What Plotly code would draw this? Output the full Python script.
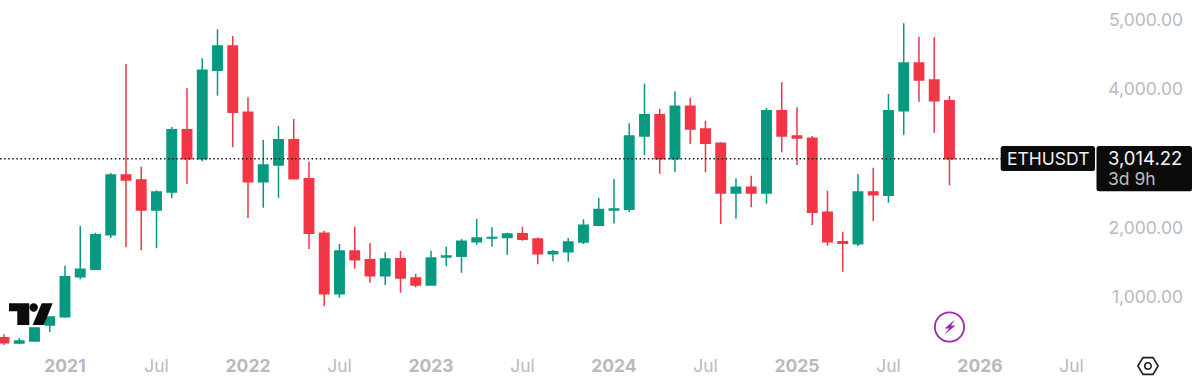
import plotly.graph_objects as go

MONTH_NAMES = ["Jan","Feb","Mar","Apr","May","Jun","Jul","Aug","Sep","Oct","Nov","Dec"]
axis_months = [f"{m} {y}" for y in range(2020, 2027) for m in MONTH_NAMES]
axis_months = axis_months[axis_months.index("Sep 2020"):]

open_ = [431,354,383,614,734,1312,1418,1918,2779,2707,2274,2533,3433,3014,4289,4640,3683,2683,2923,3289,2726,1937,1066,
         1682,1557,1326,1571,1292,1191,1595,1605,1817,1868,1875,1932,1855,1644,1672,1812,2052,2274,2283,3342,3649,3014,
         3770,3442,3236,2519,2601,2519,3707,3342,3308,2240,1817,1788,2533,2485,3707,4395,4150,3851]
high = [480,422,575,732,1470,2043,1947,2808,4381,2899,2558,3471,4034,4462,4881,4785,3900,3289,3486,3587,2971,1975,1783,
        2033,1793,1663,1682,1355,1687,1745,1855,2144,2024,1947,2033,1875,1697,1870,2139,2452,2721,3524,4097,3736,3986,
        3895,3563,3250,2731,2769,3750,4116,3755,3342,2553,1961,2793,2885,3948,4967,4775,4765,3919]
low = [326,335,374,513,720,1273,1415,1870,1735,1697,1721,2447,2654,2976,3924,3178,2158,2307,2452,2721,1711,884,1009,
       1427,1225,1191,1081,1158,1185,1461,1369,1773,1745,1629,1831,1490,1533,1528,1783,2048,2077,2245,3067,2798,2822,
       3226,2817,2072,2149,2312,2365,3106,2923,2052,1759,1384,1754,2115,2380,3356,3837,3390,2630]
close = [359,383,571,730,1312,1418,1918,2779,2707,2274,2533,3433,3014,4289,4640,3683,2683,2923,3289,2726,1937,1066,1682,
         1557,1326,1567,1292,1191,1581,1610,1822,1870,1878,1927,1850,1644,1672,1812,2052,2279,2288,3342,3649,3014,3770,
         3442,3236,2519,2601,2519,3707,3342,3313,2240,1817,1793,2533,2495,3707,4395,4150,3851,3014.22]
n = len(open_)
months = axis_months[:n]

price_ticks = [1000, 2000, 3000, 4000, 5000]
price_labels = ["1,000.00", "2,000.00", "", "4,000.00", "5,000.00"]
time_ticks = ["Jan 2021","Jul 2021","Jan 2022","Jul 2022","Jan 2023","Jul 2023","Jan 2024","Jul 2024",
              "Jan 2025","Jul 2025","Jan 2026","Jul 2026"]
time_labels = ["<b>2021</b>","Jul","<b>2022</b>","Jul","<b>2023</b>","Jul","<b>2024</b>","Jul",
               "<b>2025</b>","Jul","<b>2026</b>","Jul"]
last_price = 3014.22
symbol = "ETHUSDT"
price_text = "3,014.22"
countdown = "3d 9h"

W, H = 1186, 353
X = lambda x: x / W
Y = lambda y: 1 - y / H
def poly(points, close_path=True):
    s = "M " + " L ".join(f"{X(a):.5f},{Y(b):.5f}" for a, b in points)
    return s + (" Z" if close_path else "")
def rrect(x0, y0, x1, y1, r, corners=(1,1,1,1)):
    tl, tr, br, bl = [r*c for c in corners]
    return (f"M {X(x0+tl):.5f},{Y(y0):.5f} L {X(x1-tr):.5f},{Y(y0):.5f} "
            f"Q {X(x1):.5f},{Y(y0):.5f} {X(x1):.5f},{Y(y0+tr):.5f} "
            f"L {X(x1):.5f},{Y(y1-br):.5f} Q {X(x1):.5f},{Y(y1):.5f} {X(x1-br):.5f},{Y(y1):.5f} "
            f"L {X(x0+bl):.5f},{Y(y1):.5f} Q {X(x0):.5f},{Y(y1):.5f} {X(x0):.5f},{Y(y1-bl):.5f} "
            f"L {X(x0):.5f},{Y(y0+tl):.5f} Q {X(x0):.5f},{Y(y0):.5f} {X(x0+tl):.5f},{Y(y0):.5f} Z")
def circle(cx, cy, r, **kw):
    return dict(type="circle", xref="paper", yref="paper", x0=X(cx-r), x1=X(cx+r), y0=Y(cy+r), y1=Y(cy-r), **kw)
def path(d, **kw):
    return dict(type="path", xref="paper", yref="paper", path=d, **kw)

BLACK = "#0b0b0b"
PURPLE = "#9c27b0"
shapes = [
    dict(type="line", xref="paper", yref="y", x0=0, x1=X(1001), y0=last_price, y1=last_price,
         line=dict(color="#131722", width=1.5, dash="1.5px,2.6px"), layer="above"),
    path(rrect(1000.7, 146, 1095, 171, 2.5), fillcolor=BLACK, line_width=0),
    path(rrect(1096.5, 146, 1192, 191.3, 2.5), fillcolor=BLACK, line_width=0),
    # TradingView mark
    path(poly([(9,303.3),(29.3,303.3),(29.3,325),(17.3,325),(17.3,311.3),(9,311.3)]), fillcolor=BLACK, line_width=0),
    circle(33.7, 307.5, 4.2, fillcolor=BLACK, line_width=0),
    path(poly([(41.7,303.3),(52.7,303.3),(43.7,325),(32.7,325)]), fillcolor=BLACK, line_width=0),
    # lightning badge
    circle(949.5, 327, 14.6, line=dict(color=PURPLE, width=1.8)),
    path(poly([(955,319.5),(944.5,328.5),(949,328.5),(944.5,334.5),(955.5,325.5),(951,325.5)]),
         fillcolor=PURPLE, line_width=0),
    # settings hexagon
    path(poly([(1137.9,366),(1143,357.6),(1153,357.6),(1158.1,366),(1153,374.4),(1143,374.4)]),
         line=dict(color="#1e1e1e", width=1.6)),
    circle(1148, 366, 3.2, line=dict(color="#1e1e1e", width=1.6)),
]
FONT = "Inter, Roboto, sans-serif"
annotations = [
    dict(xref="paper", yref="paper", x=X(1048), y=Y(158.5), text=symbol, showarrow=False,
         font=dict(family=FONT, size=17.5, color="#f2f2f2"), xanchor="center", yanchor="middle"),
    dict(xref="paper", yref="paper", x=X(1108), y=Y(158), text=price_text, showarrow=False,
         font=dict(family=FONT, size=18.5, color="#f5f5f5"), xanchor="left", yanchor="middle", xshift=-2),
    dict(xref="paper", yref="paper", x=X(1108), y=Y(178), text=countdown, showarrow=False,
         font=dict(family=FONT, size=17.5, color="#bdbdbd"), xanchor="left", yanchor="middle", xshift=-2),
]

fig = go.Figure(go.Candlestick(
    x=months, open=open_, high=high, low=low, close=close,
    increasing=dict(line=dict(color="#089981", width=1.5), fillcolor="#089981"),
    decreasing=dict(line=dict(color="#F23645", width=1.5), fillcolor="#F23645"),
    whiskerwidth=0, showlegend=False,
))
fig.update_layout(
    width=1200, height=381, autosize=False,
    margin=dict(l=0, r=14, t=0, b=28, pad=0),
    paper_bgcolor="white", plot_bgcolor="white",
    boxgap=0.12, showlegend=False,
    shapes=shapes, annotations=annotations,
    xaxis=dict(type="category", categoryorder="array", categoryarray=axis_months,
               range=[-0.262, 77.51], tickmode="array", tickvals=time_ticks, ticktext=time_labels,
               showgrid=False, zeroline=False, showline=False, ticks="", ticklen=0,
               rangeslider=dict(visible=False),
               tickfont=dict(family=FONT, size=17.5, color="#b8b9bf")),
    yaxis=dict(side="right", ticklabelposition="inside", range=[210, 5304], tickmode="array",
               tickvals=price_ticks, ticktext=price_labels,
               showgrid=False, zeroline=False, showline=False, ticks="", ticklen=0,
               ticklabelshift=-1,
               tickfont=dict(family=FONT, size=17.5, color="#b8b9bf")),
)
fig.write_html("out.html", config=dict(displayModeBar=False),
               post_script="document.body.style.margin='0';document.documentElement.style.overflow='hidden';")
